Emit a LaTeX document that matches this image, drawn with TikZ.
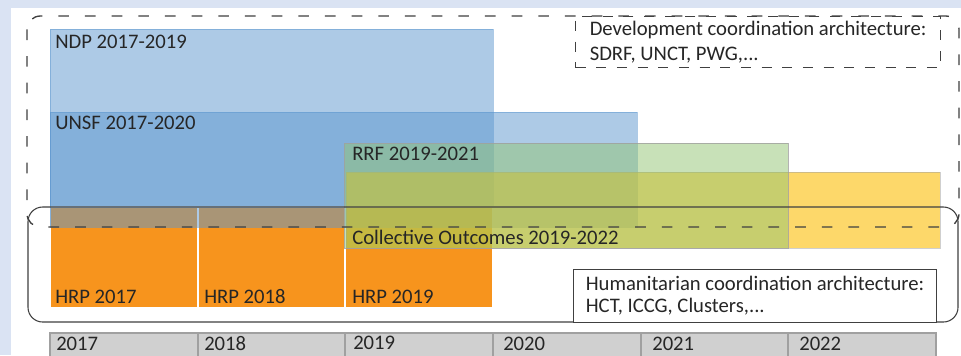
\documentclass[tikz,border=0pt]{standalone}
\usepackage{fontspec}
\setmainfont{Carlito}
\definecolor{pagebg}{RGB}{218,227,243}
\definecolor{ink}{RGB}{38,38,38}
\definecolor{planblue}{RGB}{93,151,207}
\definecolor{rrfgreen}{RGB}{147,197,115}
\definecolor{coyellow}{RGB}{253,190,7}
\definecolor{hrporange}{RGB}{247,148,29}
\definecolor{yearfill}{RGB}{208,208,208}
\definecolor{yearline}{RGB}{160,160,160}
\definecolor{framegrey}{RGB}{64,64,64}
\begin{document}
\begin{tikzpicture}[x=0.75pt,y=-0.75pt,
  lbl/.style={anchor=base west, inner sep=0pt, text=ink, font=\fontsize{15.5}{18.6}\selectfont},
  blueplan/.style={fill=planblue, fill opacity=0.5, draw=planblue, draw opacity=0.5, line width=0.6pt},
  hrpbox/.style={fill=hrporange, draw=white, line width=0.8pt},
  rrfbox/.style={fill=rrfgreen, fill opacity=0.5, draw=yearline, draw opacity=0.8, line width=0.6pt},
  cobox/.style={fill=coyellow, fill opacity=0.6, draw=yearline, draw opacity=0.5, line width=0.6pt},
  yearcell/.style={fill=yearfill, draw=yearline, line width=0.8pt},
  devbox/.style={draw=framegrey, line width=0.9pt, dash pattern=on 7.5pt off 8pt,
    anchor=north west, minimum width=273.75pt, minimum height=38.25pt,
    inner sep=0pt, align=left, text=ink,
    font=\fontsize{15.5}{18.75}\selectfont},
  humbox/.style={draw=framegrey, fill=white, line width=0.8pt,
    anchor=north west, minimum width=272.25pt, minimum height=39.75pt,
    inner sep=0pt, align=left, text=ink,
    font=\fontsize{15.5}{16.5}\selectfont},
]
\useasboundingbox (0,0) rectangle (961,355);
\clip (0,0) rectangle (961,355);

% page background and white panel
\fill[pagebg] (0,0) rectangle (961,355);
\fill[white] (11,8) rectangle (961,360);

% timeline of years
\foreach \x/\yr in {50/2017,198/2018,345/2019,493/2020,641/2021,788/2022}{
  \path[yearcell] (\x,333) rectangle ++(148,30);
}
\node[lbl] (y2017) at (56,350) {2017};
\node[lbl] (y2018) at (204,350) {2018};
\node[lbl] (y2019) at (353,349) {2019};
\node[lbl] (y2020) at (503,350) {2020};
\node[lbl] (y2021) at (652,350) {2021};
\node[lbl] (y2022) at (799,350) {2022};

% development plans
\path[blueplan] (50,29) rectangle (493,227);

% humanitarian response plans
\path[hrpbox] (50,207) rectangle (198,308);
\path[hrpbox] (198,207) rectangle (345,308);
\path[hrpbox] (345,207) rectangle (493,308);

\path[blueplan] (50,112) rectangle (637,227);

% collective outcomes and recovery framework
\path[cobox] (346,172) rectangle (940,248);
\path[rrfbox] (344,143) rectangle (788,248);

% coordination frames
\draw[framegrey, line width=1pt, dash pattern=on 8pt off 12pt, rounded corners=10pt]
  (27,16) rectangle (959,227);
\draw[framegrey, line width=0.8pt, rounded corners=11pt]
  (28,207) rectangle (958,322);

\node[devbox] (devarch) at (575,16)
  {Development coordination architecture:\\SDRF, UNCT, PWG,...};
\node[humbox] (humarch) at (573,269)
  {Humanitarian coordination architecture:\\HCT, ICCG, Clusters,...};

% plan labels
\node[lbl] (ndp) at (55,48) {NDP 2017-2019};
\node[lbl] (unsf) at (55,129) {UNSF 2017-2020};
\node[lbl] (rrf) at (352,160) {RRF 2019-2021};
\node[lbl] (co) at (352,244) {Collective Outcomes 2019-2022};
\node[lbl] (hrp17) at (55,303) {HRP 2017};
\node[lbl] (hrp18) at (204,303) {HRP 2018};
\node[lbl] (hrp19) at (352,303) {HRP 2019};
\end{tikzpicture}
\end{document}
